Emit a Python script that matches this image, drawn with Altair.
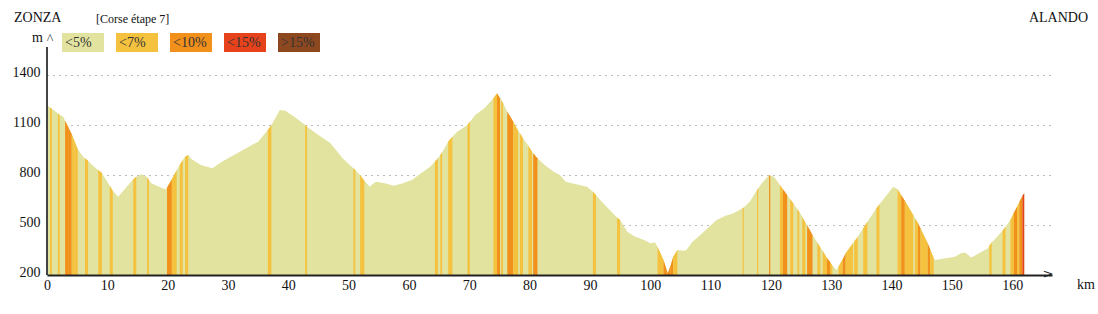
import altair as alt
import pandas as pd

# Elevation profile (km, metres) and gradient class of the segment that starts at each point
km = [0, 0.5, 0.8, 1.8, 2.1, 2.7, 3.0, 3.5, 4.1, 4.6, 5.1, 6.0, 6.3, 6.8, 7.5, 8.3, 8.5, 9.1,
      10.0, 10.4, 10.9, 11.8, 13.0, 14.3, 14.8, 15.7, 16.5, 16.6, 16.9, 17.3, 18.2, 19.6, 19.9,
      20.7, 21.5, 22.0, 22.5, 22.9, 23.4, 24.0, 25.5, 27.4, 29.0, 31.0, 33.0, 35.0, 36.6, 37.2,
      38.6, 39.5, 41.0, 42.8, 43.1, 45.0, 47.0, 49.0, 50.5, 50.8, 51.1, 51.9, 52.6, 53.5, 54.5,
      56.0, 57.5, 59.0, 60.5, 62.0, 63.5, 64.3, 64.8, 65.2, 65.5, 66.5, 67.2, 68.0, 69.7, 70.1,
      71.0, 72.5, 74.0, 74.6, 75.1, 75.3, 75.6, 76.3, 77.3, 78.1, 78.4, 78.9, 79.8, 80.4, 80.6,
      81.3, 82.5, 84.0, 85.0, 86.0, 87.0, 89.5, 90.5, 91.0, 91.7, 93.0, 94.5, 95.0, 96.2, 97.5,
      99.0, 100.0, 100.8, 101.2, 102.2, 102.9, 103.4, 103.8, 104.5, 105.5, 106.0, 107.0, 108.3,
      109.5, 111.0, 112.5, 113.8, 115.3, 115.5, 116.5, 117.7, 117.9, 118.5, 119.7, 119.9, 120.5,
      121.5, 122.0, 122.7, 123.2, 123.7, 124.4, 124.7, 125.2, 125.7, 126.0, 126.9, 127.7, 128.2,
      128.6, 129.3, 129.8, 130.2, 130.9, 131.2, 131.9, 132.4, 133.6, 133.8, 134.4, 135.3, 136.0,
      137.5, 138.0, 140.3, 141.0, 141.6, 142.2, 143.6, 143.9, 144.4, 144.8, 146.0, 146.4, 147.0,
      147.2, 149.0, 150.5, 151.5, 152.2, 153.2, 154.5, 156.0, 156.2, 156.6, 157.0, 158.4, 158.9,
      159.7, 160.3, 160.8, 161.2, 161.7, 162.0]
elev = [1220, 1205, 1198, 1170, 1160, 1150, 1125, 1090, 1045, 1000, 955, 910, 900, 885, 860, 835, 830, 812,
        760, 735, 705, 670, 720, 775, 790, 805, 790, 785, 770, 750, 735, 715, 725,
        775, 830, 860, 890, 910, 920, 895, 860, 840, 880, 920, 960, 1000, 1070, 1100,
        1190, 1185, 1150, 1100, 1090, 1040, 990, 900, 850, 840, 830, 800, 765, 730, 760,
        750, 735, 750, 770, 810, 850, 880, 900, 920, 935, 1000, 1030, 1060, 1100, 1120,
        1160, 1200, 1260, 1290, 1260, 1250, 1230, 1180, 1120, 1065, 1050, 1020, 975, 940, 930,
        900, 860, 820, 800, 760, 750, 730, 700, 680, 650, 600, 545, 530, 460, 430,
        410, 390, 395, 370, 290, 210, 260, 310, 350, 345, 350, 400, 440,
        480, 530, 555, 570, 600, 605, 640, 710, 720, 750, 800, 795, 790,
        740, 715, 680, 655, 630, 595, 580, 550, 515, 500, 440, 395, 365,
        345, 300, 280, 255, 230, 250, 295, 330, 390, 400, 430, 480, 520,
        600, 625, 730, 715, 680, 645, 560, 540, 510, 480, 390, 355, 300,
        290, 300, 310, 330, 335, 305, 330, 360, 375, 395, 410, 465, 490,
        530, 575, 610, 640, 675, 690]
grade = [0, 1, 0, 1, 0, 0, 2, 2, 1, 1, 0, 0, 1, 0, 0, 0, 1, 0,
         0, 1, 0, 0, 0, 1, 0, 0, 0, 1, 0, 0, 0, 0, 2,
         1, 0, 1, 0, 1, 0, 0, 0, 0, 0, 0, 0, 0, 1, 0,
         0, 0, 0, 1, 0, 0, 0, 0, 0, 1, 0, 1, 0, 0, 0,
         0, 0, 0, 0, 0, 0, 1, 0, 1, 0, 1, 0, 0, 1, 0,
         0, 0, 1, 2, 0, 1, 0, 2, 1, 0, 1, 0, 1, 0, 2,
         0, 0, 0, 0, 0, 0, 0, 1, 0, 0, 0, 1, 0, 0, 0,
         0, 0, 0, 1, 2, 2, 2, 1, 0, 0, 0, 0, 0,
         0, 0, 0, 0, 1, 0, 0, 1, 0, 0, 2, 0, 0,
         1, 2, 0, 1, 0, 1, 0, 1, 0, 2, 0, 1, 0,
         1, 2, 1, 0, 0, 1, 2, 1, 0, 1, 0, 1, 0,
         1, 0, 0, 1, 2, 1, 0, 1, 2, 1, 2, 1, 0,
         0, 0, 0, 0, 0, 0, 0, 0, 1, 0, 0, 1, 0,
         1, 2, 1, 2, 3, 0]

grade_labels = ["<5%", "<7%", "<10%", "<15%", ">15%"]
grade_colors = ["#E2E39F", "#F4C23F", "#F2901C", "#E6431C", "#8E4820"]

y_ticks = [200, 500, 800, 1100, 1400]
x_ticks = [0, 10, 20, 30, 40, 50, 60, 70, 80, 90, 100, 110, 120, 130, 140, 150, 160]

start_name = "ZONZA"
stage_name = "[Corse étape 7]"
end_name = "ALANDO"

SERIF = "Liberation Serif"
W, H = 1005, 228

profile = pd.DataFrame({"km": km, "elev": elev})
profile["base"] = 200

rows = []
for i in range(len(km) - 1):
    if grade[i] == 0:
        continue
    for j in (i, i + 1):
        rows.append({"seg": i, "km": km[j], "elev": elev[j], "base": 200,
                     "grade": grade_labels[grade[i]]})
segs = pd.DataFrame(rows)

xscale = alt.Scale(domain=[0, 166.6], nice=False, zero=False)
yscale = alt.Scale(domain=[200, 1568], nice=False, zero=False)

x_enc = alt.X("km:Q", scale=xscale, axis=alt.Axis(
    values=x_ticks, title=None, ticks=False, grid=False, labelFlush=False, format="d",
    labelPadding=3, domainColor="#222", domainWidth=2, zindex=1))
y_enc = alt.Y("elev:Q", scale=yscale, stack=None, axis=alt.Axis(
    values=y_ticks, title=None, ticks=False, domain=False, grid=True, format="d",
    gridDash=[1, 5], gridColor="#777", gridWidth=1, labelFlush=False,
    labelPadding=7, labelOffset=-3))

base_area = alt.Chart(profile).mark_area(color=grade_colors[0], opacity=1).encode(
    x=x_enc, y=y_enc, y2="base:Q")

seg_area = alt.Chart(segs).mark_area(opacity=1).encode(
    x=x_enc, y=y_enc, y2="base:Q", detail="seg:N",
    color=alt.Color("grade:N", scale=alt.Scale(domain=grade_labels, range=grade_colors),
                    legend=None))

one = alt.Data(values=[{"a": 1}])

yaxis_line = alt.Chart(one).mark_rule(color="#444", strokeWidth=2).encode(
    x=alt.value(0), y=alt.value(0), y2=alt.value(H))


def label(text, x, y, size=14, align="left", baseline="middle", font=SERIF, color="#111"):
    return alt.Chart(one).mark_text(text=text, align=align, baseline=baseline, font=font,
                                    fontSize=size, color=color).encode(
        x=alt.value(x), y=alt.value(y))


layers = [base_area, seg_area, yaxis_line,
          label(start_name, -33, -29),
          label(stage_name, 49, -28, size=12),
          label(end_name, 1041, -29, align="right"),
          label("m", -15, -9),
          label("^", 3, -3, size=14, align="center", baseline="alphabetic", color="#444"),
          label(">", 1001, H - 1, size=13, align="center", font="DejaVu Sans", color="#222"),
          label("km", 1030, H + 10)]

for k, (lab, col) in enumerate(zip(grade_labels, grade_colors)):
    x0 = 15 + 54 * k
    layers.append(alt.Chart(one).mark_rect(color=col).encode(
        x=alt.value(x0), x2=alt.value(x0 + 42), y=alt.value(-14), y2=alt.value(5)))
    layers.append(label(lab, x0 + 3, -4, size=14, color="#333"))

chart = alt.layer(*layers).properties(
    width=W, height=H,
    padding={"left": 47, "top": 47, "right": 46, "bottom": 39},
    autosize=alt.AutoSizeParams(type="none"),
    background="white",
).configure_view(stroke=None).configure_axis(
    labelFont=SERIF, labelFontSize=14, labelColor="#111"
)

chart.save("out.html", embed_options={"renderer": "svg", "actions": False})
